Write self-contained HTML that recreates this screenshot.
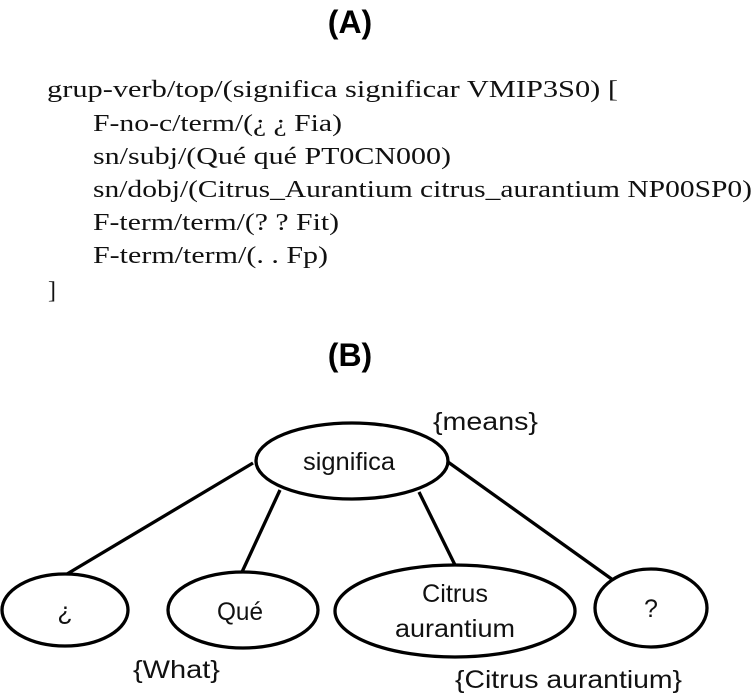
<!DOCTYPE html>
<html><head><meta charset="utf-8"><style>html,body{margin:0;padding:0;background:#fff;width:755px;height:697px;overflow:hidden}</style></head>
<body>
<svg width="755" height="697" viewBox="0 0 755 697" xmlns="http://www.w3.org/2000/svg">
<g font-family="Liberation Sans, sans-serif" font-weight="bold" font-size="32" text-anchor="middle" fill="#000">
<text x="350" y="33">(A)</text>
<text x="350" y="366">(B)</text>
</g>
<g font-family="Liberation Serif, serif" font-size="24" fill="#111">
<text x="47" y="97" textLength="571" lengthAdjust="spacingAndGlyphs">grup-verb/top/(significa significar VMIP3S0) [</text>
<text x="93" y="131" textLength="249" lengthAdjust="spacingAndGlyphs">F-no-c/term/(¿ ¿ Fia)</text>
<text x="93" y="164" textLength="358" lengthAdjust="spacingAndGlyphs">sn/subj/(Qué qué PT0CN000)</text>
<text x="93" y="197" textLength="659" lengthAdjust="spacingAndGlyphs">sn/dobj/(Citrus_Aurantium citrus_aurantium NP00SP0)</text>
<text x="93" y="230" textLength="246" lengthAdjust="spacingAndGlyphs">F-term/term/(? ? Fit)</text>
<text x="93" y="263" textLength="235" lengthAdjust="spacingAndGlyphs">F-term/term/(. . Fp)</text>
<text x="48" y="298">]</text>
</g>
<g stroke="#000" stroke-width="3.3" fill="none">
<line x1="253" y1="463" x2="67" y2="574"/>
<line x1="280" y1="490" x2="242" y2="572"/>
<line x1="419" y1="492" x2="455" y2="565"/>
<line x1="448" y1="462" x2="613" y2="580"/>
<ellipse cx="352" cy="461" rx="96" ry="38"/>
<ellipse cx="65" cy="610" rx="63" ry="36"/>
<ellipse cx="243" cy="610" rx="75" ry="38"/>
<ellipse cx="455" cy="611" rx="120" ry="46"/>
<ellipse cx="651" cy="608" rx="56" ry="39"/>
</g>
<g font-family="Liberation Sans, sans-serif" font-size="25" fill="#111">
<text x="303" y="470" textLength="92" lengthAdjust="spacingAndGlyphs">significa</text>
<text x="65" y="620" text-anchor="middle">¿</text>
<text x="217" y="620" textLength="46" lengthAdjust="spacingAndGlyphs">Qué</text>
<text x="422" y="602" textLength="66" lengthAdjust="spacingAndGlyphs">Citrus</text>
<text x="395" y="637" textLength="120" lengthAdjust="spacingAndGlyphs">aurantium</text>
<text x="651" y="617" text-anchor="middle">?</text>
<text x="433" y="430" textLength="105" lengthAdjust="spacingAndGlyphs">{means}</text>
<text x="133" y="678" textLength="87" lengthAdjust="spacingAndGlyphs">{What}</text>
<text x="455" y="688" textLength="227" lengthAdjust="spacingAndGlyphs">{Citrus aurantium}</text>
</g>
</svg>
</body></html>
